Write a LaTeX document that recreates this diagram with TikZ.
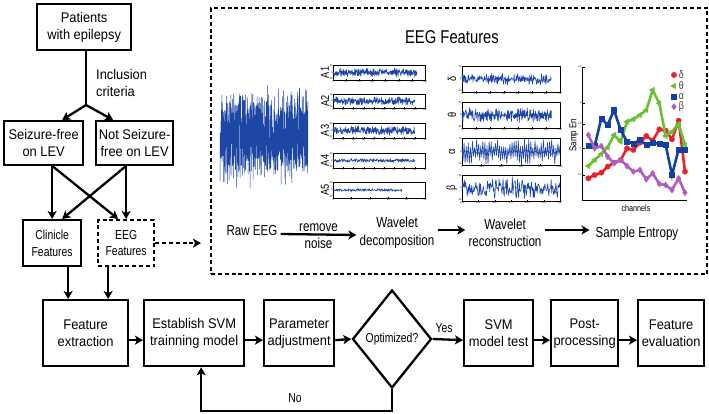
\documentclass[tikz,border=0pt]{standalone}
\usepackage{fontspec}
\setmainfont{Liberation Sans}[FakeStretch=0.92]
\newfontfamily\nf{Liberation Sans}[FakeStretch=0.8]
\usetikzlibrary{arrows.meta,shapes.geometric,calc,plotmarks}
\definecolor{eegblue}{RGB}{30,70,165}
\definecolor{sred}{RGB}{230,35,45}
\definecolor{sgreen}{RGB}{105,190,50}
\definecolor{sblue}{RGB}{20,65,160}
\definecolor{spurple}{RGB}{175,95,185}
\tikzset{
 box/.style={draw, line width=2.3pt, align=center, inner sep=1pt, font=\fontsize{14}{17}\selectfont, anchor=north west},
 nbox/.style={box, font=\nf\fontsize{13}{16.5}\selectfont},
 dpat/.style={dash pattern=on 4pt off 2.8pt},
 arr/.style={line width=2.3pt, -{Stealth[length=8pt,width=9pt,inset=2pt]}},
 lbl/.style={font=\nf\fontsize{14.5}{17.5}\selectfont, align=center, inner sep=0pt},
 tck/.style={font=\fontsize{2.6}{3}\selectfont, inner sep=0.3pt},
 sig/.style={eegblue, line width=0.6pt, line join=round},
 plab/.style={font=\nf\fontsize{11.5}{11.5}\selectfont, rotate=90, inner sep=0pt},
}
% panel: #1 top, #2 bottom, #3 x labels, #4 signal fraction, #5 amplitude, #6 samples, #7 y top label, #8 y bottom label, #9 intervals
\newcommand\mypanel[9]{%
 \pgfmathsetmacro\yc{(#1+#2)/2}
 \draw[line width=0.4pt] (\pl,#1) rectangle ({\pl+\pw},#2);
 \draw[sig] plot[domain=0:#4, samples=#6] ({\pl+\x*\pw}, {\yc + #5*(0.6*rand+0.4*rand)});
 \foreach \t [count=\i from 0] in {#3} {
   \pgfmathsetmacro\xx{\pl+\i*\pw/#9}
   \draw[line width=0.3pt] (\xx,#2) -- (\xx,#2-1.2);
   \node[tck, anchor=north] at (\xx,#2) {\t};
 }
 \node[tck, anchor=east] at (\pl,#1+1) {#7};
 \node[tck, anchor=east] at (\pl,\yc) {0};
 \node[tck, anchor=east] at (\pl,#2-1) {#8};
}
\begin{document}
\begin{tikzpicture}[x=1pt,y=-1pt]
\useasboundingbox (0,0) rectangle (709,414);

% ---------- left flow ----------
\node[box, minimum width=94pt, minimum height=46pt] (pat) at (36,3) {Patients\\with epilepsy};
\node[box, minimum width=79pt, minimum height=44pt] (sf) at (3,120) {Seizure-free\\on LEV};
\node[box, minimum width=77pt, minimum height=44pt] (ns) at (95,120) {Not Seizure-\\free on LEV};
\node[nbox, minimum width=58pt, minimum height=46pt] (cf) at (22,219) {Clinicle\\Features};
\node[nbox, dpat, minimum width=56pt, minimum height=46pt] (eegs) at (97,219) {EEG\\Features};

\coordinate (split) at (86,105);
\draw[line width=2.3pt] (pat.south -| split) -- (split);
\draw[arr] (split) -- ([xshift=18.5pt]sf.north);
\draw[arr] (split) -- ([xshift=-21.5pt]ns.north);
\node[align=left, anchor=west, inner sep=0pt, font=\fontsize{14}{16.5}\selectfont] (incl) at (96,83) {Inclusion\\criteria};

\draw[arr] ([xshift=8.5pt]sf.south) -- (cf.north);
\draw[arr] ([xshift=9pt]sf.south) -- ([xshift=-8pt]eegs.north);
\draw[arr] ([xshift=-8.5pt]ns.south) -- (eegs.north);
\draw[arr] ([xshift=-9pt]ns.south) -- ([xshift=10pt]cf.north);

% ---------- big dashed box ----------
\node[draw, line width=2.3pt, dpat, minimum width=496pt, minimum height=266pt, anchor=north west, inner sep=0pt] (big) at (210,7) {};
\draw[arr, dpat] (eegs.east) -- ([xshift=-9pt]big.west |- eegs.east);

\node[font=\nf\fontsize{18.5}{20}\selectfont, inner sep=0pt] (title) at (452,37) {EEG Features};

% raw EEG
\pgfmathsetseed{7}
\draw[sig, line width=0.5pt] plot[domain=220:308, samples=850] (\x, {136 + 54*(0.6*rand+0.4*rand)});

% A panels
\def\pl{333}\def\pw{92}
\pgfmathsetseed{11}
\mypanel{65}{80}{0,50,100,150,200,250,300,350}{0.914}{5}{300}{20}{-20}{7}
\mypanel{94}{108}{0,20,40,60,80,100,120,140,160,180}{0.89}{4.5}{280}{20}{-20}{9}
\mypanel{123}{138}{0,10,20,30,40,50,60,70,80,90}{0.89}{5.5}{260}{20}{-20}{9}
\mypanel{153}{168}{0,5,10,15,20,25,30,35,40,45}{0.89}{2.2}{240}{50}{-50}{9}
\mypanel{182}{198}{0,5,10,15,20,25}{0.75}{1.6}{200}{50}{-50}{5}
\node[plab] (a1) at (325,72.5) {A1};
\node[plab] (a2) at (325,101) {A2};
\node[plab] (a3) at (325,130.5) {A3};
\node[plab] (a4) at (325,160.5) {A4};
\node[plab] (a5) at (325,190) {A5};

% band panels
\def\pl{462}\def\pw{98}
\pgfmathsetseed{23}
\mypanel{66}{92}{0,100,200,300,400,500,600,700}{0.914}{6}{260}{50}{-50}{7}
\mypanel{102}{128}{0,100,200,300,400,500,600,700}{0.914}{8}{260}{50}{-50}{7}
\mypanel{138}{165}{0,200,400,600,800,1000}{1}{3}{60}{10}{-10}{5}
\draw[sig] plot[domain=0:94, samples=95] ({462+\x*98/94}, {151.5 + 12.5*(2*mod(round(\x),2)-1)*(0.25+0.75*rnd)});
\mypanel{175}{201}{240,250,260,270,280,290,300}{1}{12}{170}{20}{-20}{6}
\node[plab] (gd) at (452,79) {δ};
\node[plab] (gt) at (452,115) {θ};
\node[plab] (ga) at (452,151.5) {α};
\node[plab] (gb) at (452,188) {β};

% sample entropy plot
\begin{scope}[shift={(570,60)}, x=0.3333pt, y=-0.3333pt]
 \draw[line width=0.5pt] (38,20) -- (38,422) -- (350,422);
 \foreach \v/\yy in {2.5/20, 2/128, 1.5/192, 1/265, 0.5/345} {
   \draw[line width=0.3pt] (38,\yy) -- (44,\yy);
   \node[tck, anchor=east] at (36,\yy) {\v};
 }
 \draw[sred, line width=2.6pt, line join=round, mark=*, mark size=2.7pt, mark options={solid, line width=0.3pt, fill=sred}]
  plot coordinates {(55,355) (74,345) (94,338) (113,320) (132,308) (152,300) (171,265) (190,270) (210,248) (229,228) (248,242) (268,208) (287,212) (306,238) (326,182) (345,335)};
 \draw[sgreen, line width=2.6pt, line join=round, mark=triangle*, mark size=3.3pt, mark options={solid, rotate=90, line width=0.3pt, fill=sgreen}]
  plot coordinates {(55,318) (74,300) (94,282) (113,262) (132,225) (152,245) (171,185) (190,178) (210,165) (229,150) (248,90) (268,130) (287,228) (306,215) (326,192) (345,255)};
 \draw[sblue, line width=2.6pt, line join=miter, mark=square*, mark size=2.5pt, mark options={solid, line width=0.3pt, fill=sblue}]
  plot coordinates {(55,258) (74,258) (94,175) (113,195) (132,150) (152,210) (171,245) (190,250) (210,240) (229,255) (248,248) (268,252) (287,255) (306,345) (326,268) (345,268)};
 \draw[spurple, line width=2.6pt, line join=round, mark=diamond*, mark size=3.1pt, mark options={solid, line width=0.3pt, fill=spurple}]
  plot coordinates {(55,225) (74,265) (94,258) (113,290) (132,310) (152,300) (171,318) (190,335) (210,330) (229,358) (248,340) (268,372) (287,375) (306,390) (326,355) (345,398)};
 % legend
 \path plot[mark=*, mark size=2.7pt, mark options={draw=sred, fill=sred}] coordinates {(312,45)};
 \path plot[mark=triangle*, mark size=3.3pt, mark options={rotate=90, draw=sgreen, fill=sgreen}] coordinates {(312,78)};
 \path plot[mark=square*, mark size=2.5pt, mark options={draw=sblue, fill=sblue}] coordinates {(312,110)};
 \path plot[mark=diamond*, mark size=3.1pt, mark options={draw=spurple, fill=spurple}] coordinates {(312,140)};
 \node[anchor=west, inner sep=0pt, text=black!75, font=\nf\fontsize{11}{11}\selectfont] (ld) at (326,45) {δ};
 \node[anchor=west, inner sep=0pt, text=black!75, font=\nf\fontsize{11}{11}\selectfont] (lt) at (326,78) {θ};
 \node[anchor=west, inner sep=0pt, text=black!75, font=\nf\fontsize{11}{11}\selectfont] (la) at (326,110) {α};
 \node[anchor=west, inner sep=0pt, text=black!75, font=\nf\fontsize{11}{11}\selectfont] (lb) at (326,140) {β};
\end{scope}
\node[plab, font=\nf\fontsize{10}{10}\selectfont] (sampen) at (574,135) {Samp En};
\node[inner sep=0pt, font=\nf\fontsize{9}{10}\selectfont] (chan) at (636,208) {channels};

% step labels
\node[lbl] (raw) at (252,231) {Raw EEG};
\node[lbl] (wd) at (397,233) {Wavelet\\decomposition};
\node[lbl] (wr) at (505,233) {Wavelet\\reconstruction};
\node[lbl] (se) at (637,234) {Sample Entropy};
\draw[arr] ([xshift=3pt,yshift=-3pt]raw.east) -- ([xshift=-3pt]wd.west |- 0,235) node[midway, above=2pt, lbl] {remove} node[midway, below=2pt, lbl] {noise};
\draw[arr] ([xshift=3pt]wd.east |- 0,230) -- ([xshift=-3pt]wr.west |- 0,230);
\draw[arr] ([xshift=3pt]wr.east |- 0,230) -- ([xshift=-6pt]se.west |- 0,230);

% ---------- bottom row ----------
\node[box, minimum width=85pt, minimum height=66pt] (fe) at (42,299) {Feature\\extraction};
\node[box, minimum width=100pt, minimum height=66pt] (svm) at (143,299) {Establish SVM\\trainning model};
\node[box, minimum width=70pt, minimum height=66pt] (par) at (263,299) {Parameter\\adjustment};
\node[draw, diamond, line width=2.3pt, minimum width=79pt, minimum height=98pt, inner sep=0pt, font=\nf\fontsize{13}{15}\selectfont] (opt) at (392,339) {Optimized?};
\node[box, minimum width=69pt, minimum height=66pt] (st) at (463,299) {SVM\\model test};
\node[box, minimum width=67pt, minimum height=66pt] (pp) at (550,299) {Post-\\processing};
\node[box, minimum width=66pt, minimum height=66pt] (fv) at (637,299) {Feature\\evaluation};

\draw[arr] ([xshift=16pt]cf.south) -- ([xshift=16pt]cf.south |- fe.north);
\draw[arr] ([xshift=-18pt]eegs.south) -- ([xshift=-18pt]eegs.south |- fe.north);

\draw[arr] ([yshift=-7pt]fe.east) -- ([yshift=-7pt]svm.west);
\draw[arr] ([yshift=-7pt]svm.east) -- ([yshift=-7pt]par.west);
\draw[arr] ([yshift=-7pt]par.east) -- (opt.west);
\draw[arr] (opt.east) -- ([yshift=-7pt]st.west);
\node[inner sep=0pt, font=\nf\fontsize{13}{15}\selectfont] (yes) at (444,328) {Yes};
\draw[arr] ([yshift=-7pt]st.east) -- ([yshift=-7pt]pp.west);
\draw[arr] ([yshift=-7pt]pp.east) -- ([yshift=-7pt]fv.west);

\coordinate (fb) at (392,411);
\draw[arr] (opt.south) -- (fb) -| ([xshift=7pt]svm.south);
\node[inner sep=0pt, font=\nf\fontsize{13}{15}\selectfont] (no) at (295,398) {No};
\end{tikzpicture}
\end{document}
